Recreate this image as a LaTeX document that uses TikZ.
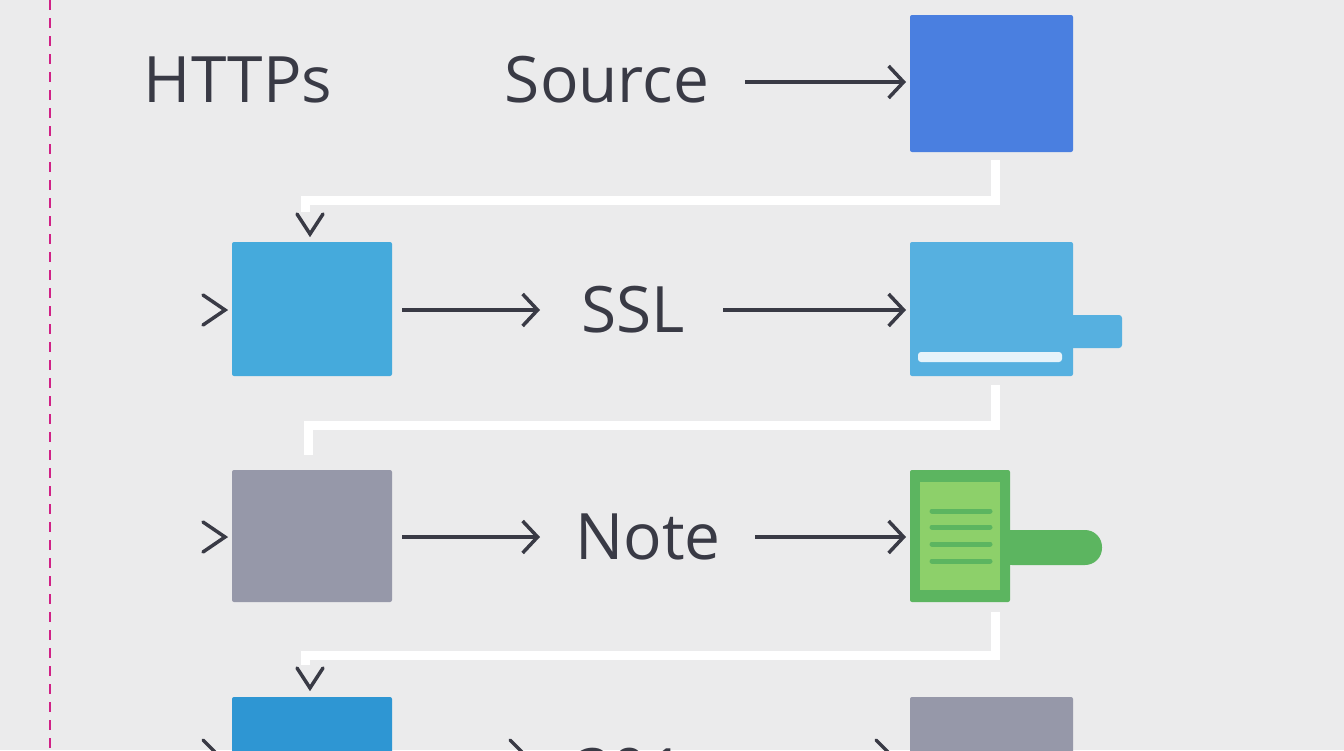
\documentclass[tikz,border=0pt]{standalone}
\usepackage{fontspec}
\setmainfont{Open Sans}
\begin{document}
\begin{tikzpicture}[x=1pt,y=-1pt,
  lbl/.style={text=txt,font=\fontsize{64}{72}\selectfont,inner sep=0},
  arr/.style={draw=txt,line width=3.5pt,-{Straight Barb[length=15pt,width=32pt,line width=3.5pt]}},
  chev/.style={draw=txt,line width=3.5pt,line cap=round,line join=miter},
  wire/.style={draw=white,line width=9pt},
  box/.style={rounded corners=2pt,inner sep=0}]
\definecolor{bg}{HTML}{EBEBEC}
\definecolor{txt}{HTML}{393A45}
\definecolor{b1}{HTML}{4A7FE0}
\definecolor{b2}{HTML}{45AADC}
\definecolor{b3}{HTML}{56B0E0}
\definecolor{b4}{HTML}{2E96D3}
\definecolor{gr}{HTML}{9698A9}
\definecolor{gd}{HTML}{5CB560}
\definecolor{gl}{HTML}{8DD06A}
\usetikzlibrary{arrows.meta}
\fill[bg] (0,0) rectangle (1344,750);
\useasboundingbox (0,0) rectangle (1344,750);
\draw[magenta!70!violet,line width=2.5pt,dash pattern=on 10pt off 8pt] (50,0) -- (50,750);
% row 1
\node[lbl] (https) at (238,80) {HTTPs};
\node[lbl] (src) at (607,80) {Source};
\fill[b1,box] (910,15) rectangle (1073,152);
\coordinate (b1w) at (906,82);
\draw[arr] (745,82) -- (b1w);
% wire 1
\draw[wire] (995,160) -- (995,200) -- (305,200) -- (305,212);
\draw[chev] (297,214) -- (310,234) -- (323,214);
% row 2
\draw[chev] (203,295) -- (225,310) -- (203,325);
\fill[b2,box] (232,242) rectangle (392,376);
\node[lbl] (ssl) at (633,310) {SSL};
\draw[arr] (402,310) -- (540,310);
\draw[arr] (723,310) -- (906,310);
\fill[b3,rounded corners=3pt] (1060,315) rectangle (1122,348);
\fill[b3,box] (910,242) rectangle (1073,376);
\fill[white!85!b3,rounded corners=3pt] (918,352) rectangle (1062,362);
% wire 2
\draw[wire] (995,385) -- (995,425) -- (308,425) -- (308,455);
% row 3
\draw[chev] (203,522) -- (225,537) -- (203,552);
\fill[gr,box] (232,470) rectangle (392,602);
\node[lbl] (note) at (648,537) {Note};
\draw[arr] (402,537) -- (540,537);
\draw[arr] (755,537) -- (906,537);
\fill[gd,rounded corners=17pt] (995,530) rectangle (1102,565);
\fill[gd,box] (910,470) rectangle (1010,602);
\fill[gl] (920,482) rectangle (1000,590);
\foreach \y in {511,527,544,561} \draw[gd,line width=5pt,line cap=round] (932,\y) -- (990,\y);
% wire 3
\draw[wire] (995,612) -- (995,655) -- (305,655) -- (305,665);
\draw[chev] (297,668) -- (310,688) -- (323,668);
% row 4
\fill[b4,box] (232,697) rectangle (392,770);
\fill[gr,box] (910,697) rectangle (1073,770);
\node[lbl] (n301) at (630,772) {301};
\draw[chev] (203,740) -- (215,752);
\draw[chev] (510,740) -- (522,752);
\draw[chev] (876,740) -- (888,752);
\end{tikzpicture}
\end{document}
